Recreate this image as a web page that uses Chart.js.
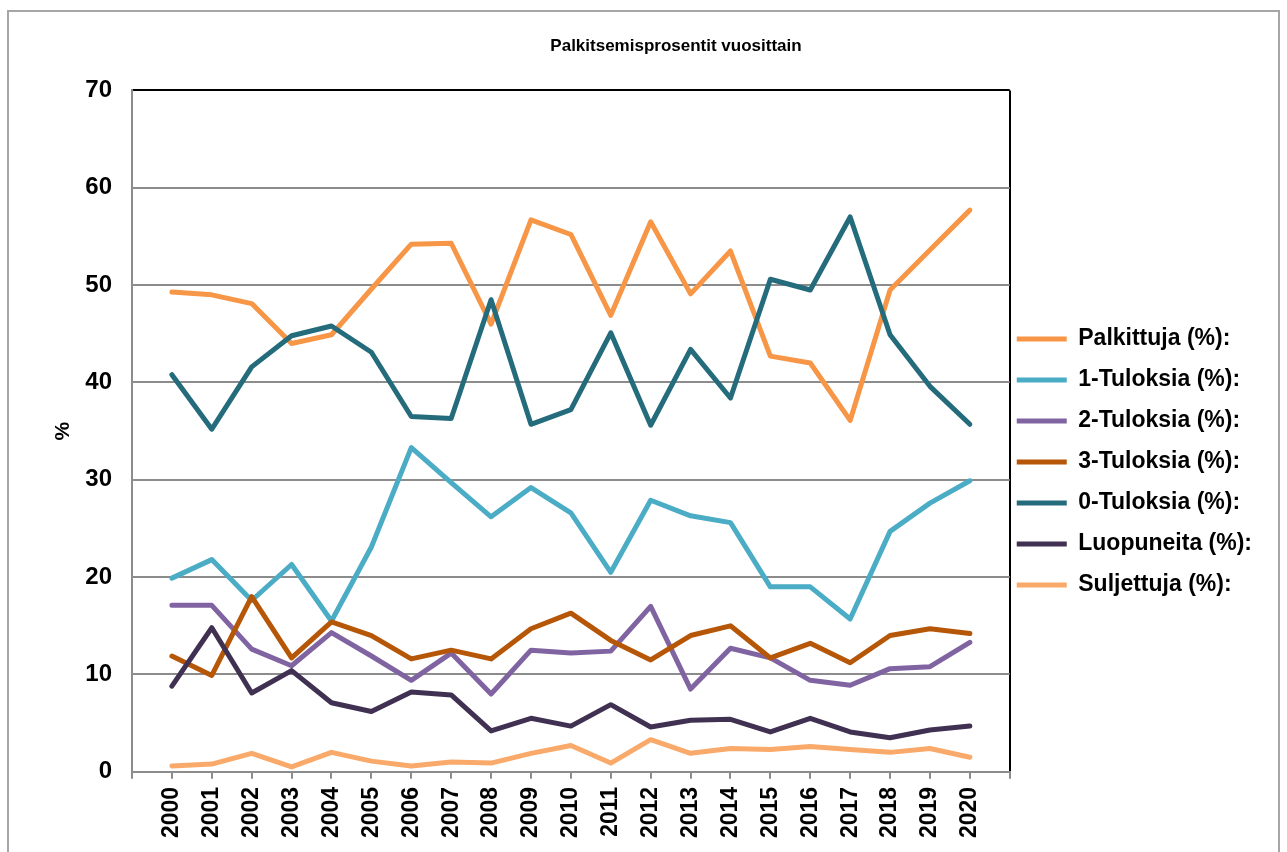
<!DOCTYPE html>
<html>
<head>
<meta charset="utf-8">
<script src="https://cdn.jsdelivr.net/npm/chart.js@4/dist/chart.umd.min.js"></script>
<style>
  html, body { margin: 0; padding: 0; background: #fff; overflow: hidden; }
  .frame { position: absolute; left: 7px; top: 10px; width: 1273px; height: 900px; border: 2px solid #a6a6a6; box-sizing: border-box; }
  .wrap { position: absolute; left: 0; top: 0; width: 1287px; height: 852px; }
</style>
</head>
<body>
<div class="frame"></div>
<div class="wrap"><canvas id="myChart" width="1287" height="852"></canvas></div>
<script>
const years = [2000, 2001, 2002, 2003, 2004, 2005, 2006, 2007, 2008, 2009, 2010,
               2011, 2012, 2013, 2014, 2015, 2016, 2017, 2018, 2019, 2020];

const palkittuja  = [49.3, 49.0, 48.1, 44.0, 44.9, 49.6, 54.2, 54.3, 46.0, 56.7, 55.2,
                     46.9, 56.5, 49.1, 53.5, 42.7, 42.0, 36.1, 49.5, 53.6, 57.7];
const tulos1      = [19.9, 21.8, 17.6, 21.3, 15.5, 23.1, 33.3, 29.7, 26.2, 29.2, 26.6,
                     20.5, 27.9, 26.3, 25.6, 19.0, 19.0, 15.7, 24.7, 27.6, 29.9];
const tulos2      = [17.1, 17.1, 12.6, 10.9, 14.3, 11.9, 9.4, 12.2, 8.0, 12.5, 12.2,
                     12.4, 17.0, 8.5, 12.7, 11.7, 9.4, 8.9, 10.6, 10.8, 13.3];
const tulos3      = [11.9, 9.9, 18.0, 11.7, 15.4, 14.0, 11.6, 12.5, 11.6, 14.7, 16.3,
                     13.5, 11.5, 14.0, 15.0, 11.7, 13.2, 11.2, 14.0, 14.7, 14.2];
const tulos0      = [40.8, 35.2, 41.6, 44.8, 45.8, 43.1, 36.5, 36.3, 48.5, 35.7, 37.2,
                     45.1, 35.6, 43.4, 38.4, 50.6, 49.5, 57.0, 44.9, 39.6, 35.7];
const luopuneita  = [8.8, 14.8, 8.1, 10.4, 7.1, 6.2, 8.2, 7.9, 4.2, 5.5, 4.7,
                     6.9, 4.6, 5.3, 5.4, 4.1, 5.5, 4.1, 3.5, 4.3, 4.7];
const suljettuja  = [0.6, 0.8, 1.9, 0.5, 2.0, 1.1, 0.6, 1.0, 0.9, 1.9, 2.7,
                     0.9, 3.3, 1.9, 2.4, 2.3, 2.6, 2.3, 2.0, 2.4, 1.5];

const seriesNames = ['Palkittuja (%):', '1-Tuloksia (%):', '2-Tuloksia (%):', '3-Tuloksia (%):',
                     '0-Tuloksia (%):', 'Luopuneita (%):', 'Suljettuja (%):'];
const seriesValues = [palkittuja, tulos1, tulos2, tulos3, tulos0, luopuneita, suljettuja];
const seriesColors = ['#f79646', '#4bacc6', '#8064a2', '#b65708', '#246b7c', '#403152', '#f9aa6a'];

const yTicks = [0, 10, 20, 30, 40, 50, 60, 70];

const FONT = 'Liberation Sans, Arial, sans-serif';

// small nudges for the legend and title blocks
const LEG_DX = 11;
const LEG_DY = 39;
const TITLE_DX = 14;

let datasets = seriesNames.map((name, i) => ({
  label: name,
  data: years.map((y, j) => ({ x: y, y: seriesValues[i][j] })),
  borderColor: seriesColors[i],
  backgroundColor: seriesColors[i],
  borderWidth: 5,
  pointRadius: 0,
  tension: 0,
  fill: false,
  borderCapStyle: 'round',
  borderJoinStyle: 'round',
  order: seriesNames.length - i   // later series painted on top
}));

const blockNudge = {
  id: 'blockNudge',
  afterLayout(chart) {
    if (chart.legend) {
      chart.legend.left -= LEG_DX;
      chart.legend.right -= LEG_DX;
      chart.legend.top += LEG_DY;
      chart.legend.bottom += LEG_DY;
    }
    if (chart.titleBlock) {
      chart.titleBlock.left += TITLE_DX;
      chart.titleBlock.right += TITLE_DX;
    }
  }
};

const config = {
  type: 'line',
  data: { datasets: datasets },
  plugins: [blockNudge],
  options: {
    responsive: false,
    animation: false,
    layout: { padding: { left: 51, right: 14, top: 0, bottom: 6 } },
    plugins: {
      title: {
        display: true,
        text: 'Palkitsemisprosentit vuosittain',
        color: '#000',
        font: { family: FONT, size: 17, weight: 'bold' },
        padding: { top: 36, bottom: 34 }
      },
      legend: {
        position: 'right',
        labels: {
          color: '#000',
          font: { family: FONT, size: 23, weight: 'bold' },
          boxWidth: 50,
          boxHeight: 5,
          padding: 18,
          generateLabels: chart => chart.data.datasets.map((d, i) => ({
            text: d.label,
            fillStyle: d.borderColor,
            strokeStyle: d.borderColor,
            lineWidth: 0,
            datasetIndex: i,
            fontColor: '#000'
          }))
        }
      },
      tooltip: { enabled: false }
    },
    scales: {
      x: {
        type: 'linear',
        min: 1999,
        max: 2021,
        ticks: {
          stepSize: 1,
          autoSkip: false,
          maxRotation: 90,
          minRotation: 90,
          padding: 8,
          color: '#000',
          font: { family: FONT, size: 23, weight: 'bold' },
          callback: v => (v >= years[0] && v <= years[years.length - 1]) ? String(v) : ''
        },
        grid: {
          color: c => (c.tick && c.tick.value === 2021) ? '#000' : 'rgba(0,0,0,0)',
          lineWidth: 2,
          tickColor: '#8c8c8c',
          tickLength: 7
        },
        border: { color: '#8c8c8c', width: 2 }
      },
      y: {
        min: 0,
        max: 70,
        afterBuildTicks: axis => { axis.ticks = yTicks.map(v => ({ value: v })); },
        afterFit: axis => { axis.width = 81; },
        ticks: {
          color: '#000',
          padding: 20,
          font: { family: FONT, size: 24, weight: 'bold' }
        },
        grid: {
          color: c => (c.tick && c.tick.value === 70) ? '#000' : '#8c8c8c',
          lineWidth: 2,
          drawTicks: false
        },
        border: { color: '#8c8c8c', width: 2 },
        title: {
          display: true,
          text: '%',
          color: '#000',
          font: { family: FONT, size: 21, weight: 'bold' },
          padding: { top: 0, bottom: 0 }
        }
      }
    }
  }
};

let ctx = document.getElementById('myChart').getContext('2d');
let myChart = new Chart(ctx, config);
</script>
</body>
</html>
